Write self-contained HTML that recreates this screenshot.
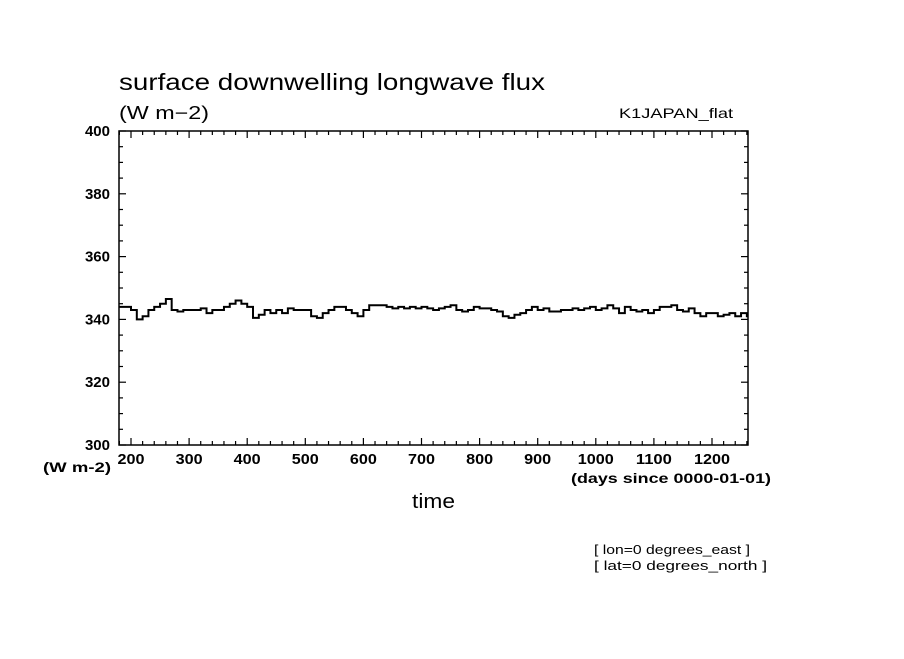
<!DOCTYPE html>
<html><head><meta charset="utf-8"><style>
body{margin:0;background:#fff;}
svg text{font-family:"Liberation Sans",sans-serif;fill:#000;}
</style></head><body>
<svg width="904" height="654">
<defs><clipPath id="pc"><rect x="119" y="131" width="629" height="314"/></clipPath></defs>
<text x="119" y="90" font-size="23" textLength="426" lengthAdjust="spacingAndGlyphs">surface downwelling longwave flux</text>
<text x="119" y="119" font-size="18" textLength="90" lengthAdjust="spacingAndGlyphs">(W m−2)</text>
<text x="619" y="118" font-size="14" textLength="114" lengthAdjust="spacingAndGlyphs">K1JAPAN_flat</text>
<rect x="119" y="131" width="629" height="314" fill="none" stroke="#000" stroke-width="1.5"/>
<g id="ticks"></g>
<polyline id="series" fill="none" stroke="#000" stroke-width="2" clip-path="url(#pc)"/>
<text x="43" y="472" font-size="14" font-weight="bold" textLength="68" lengthAdjust="spacingAndGlyphs">(W m-2)</text>
<text x="571" y="483" font-size="14" font-weight="bold" textLength="200" lengthAdjust="spacingAndGlyphs">(days since 0000-01-01)</text>
<text x="412" y="508" font-size="20" textLength="43" lengthAdjust="spacingAndGlyphs">time</text>
<text x="594" y="554" font-size="13" textLength="156" lengthAdjust="spacingAndGlyphs">[ lon=0 degrees_east ]</text>
<text x="594" y="570" font-size="13" textLength="173" lengthAdjust="spacingAndGlyphs">[ lat=0 degrees_north ]</text>
</svg>
<script>
const xTicks=[200,300,400,500,600,700,800,900,1000,1100,1200];
const yTicks=[300,320,340,360,380,400];
const startDay=180, stepDays=10;
const fluxValues=[344,344,343,340,341,343,344,345,346.5,343,342.5,343,343,343,343.5,342,343,343,344,345,346,345,344,340.5,341.5,343,342,343,342,343.5,343,343,343,341,340.5,342,343,344,344,343,342,341,343,344.5,344.5,344.5,344,343.5,344,343.5,344,343.5,344,343.5,
343,343.5,344,344.5,343,342.5,343,344,343.5,343.5,343,342.5,341,340.5,341.5,342,343,344,343,343.5,342.5,342.5,343,343,343.5,343,343.5,344,343,343.5,344.5,343.5,342,344,343,342.5,343,342,343,344,344,344.5,343,342.5,343.5,342,341,342,342,341,341.5,342,341,342,341];
const xs=d=>131+(d-200)*0.581;
const ys=v=>445-(v-300)*3.14;
const ns='http://www.w3.org/2000/svg';
const g=document.getElementById('ticks');
function line(x1,y1,x2,y2){const l=document.createElementNS(ns,'line');l.setAttribute('x1',x1);l.setAttribute('y1',y1);l.setAttribute('x2',x2);l.setAttribute('y2',y2);l.setAttribute('stroke','#000');l.setAttribute('stroke-width','1.2');


g.appendChild(l);}
for(let d=180;d<=1260;d+=20){const x=xs(d);const maj=d%100===0;line(x,445,x,445-(maj?7:4));line(x,131,x,131+(maj?7:4));}
for(let v=300;v<=400;v+=5){const y=ys(v);const maj=v%20===0;line(119,y,119+(maj?7:4),y);line(748,y,748-(maj?7:4),y);}
xTicks.forEach(d=>{const t=document.createElementNS(ns,'text');t.setAttribute('x',xs(d));t.setAttribute('y',464);t.setAttribute('font-size','15');t.setAttribute('font-weight','bold');t.setAttribute('text-anchor','middle');t.setAttribute('textLength',String(d).length*9);t.setAttribute('lengthAdjust','spacingAndGlyphs');t.textContent=d;


g.appendChild(t);});
yTicks.forEach(v=>{const t=document.createElementNS(ns,'text');t.setAttribute('x',110);t.setAttribute('y',ys(v)+5);t.setAttribute('font-size','15');t.setAttribute('font-weight','bold');t.setAttribute('text-anchor','end');t.textContent=v;


g.appendChild(t);});
const pts=[];fluxValues.forEach((v,i)=>{const d0=startDay+i*stepDays;pts.push(xs(d0)+','+ys(v));pts.push(xs(d0+stepDays)+','+ys(v));});
document.getElementById('series').setAttribute('points',pts.join(' '));
</script>
</body></html>
